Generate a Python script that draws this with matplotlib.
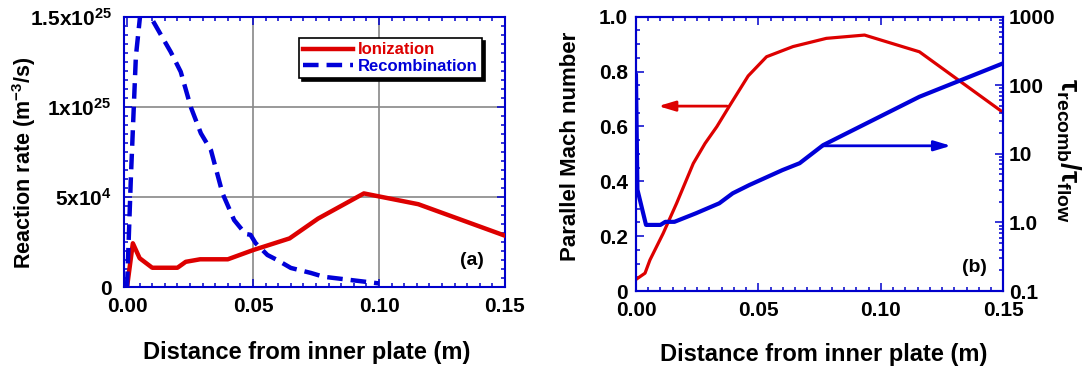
"""
Two-panel divertor plot:
  (a) ionization / recombination rate vs distance from inner plate
  (b) parallel Mach number and tau_recomb / tau_flow
"""
import matplotlib
matplotlib.use("Agg")
import matplotlib.pyplot as plt
from matplotlib.ticker import MultipleLocator, FixedLocator, LogLocator, NullFormatter

plt.rcParams["font.family"] = ["Liberation Sans", "DejaVu Sans"]
plt.rcParams["font.weight"] = "bold"
plt.rcParams["axes.labelweight"] = "bold"
plt.rcParams["mathtext.fontset"] = "custom"
plt.rcParams["mathtext.rm"] = "Liberation Sans:bold"
plt.rcParams["mathtext.bf"] = "Liberation Sans:bold"
plt.rcParams["mathtext.it"] = "Liberation Sans:bold:italic"
plt.rcParams["mathtext.default"] = "bf"

RED = "#dd0000"
BLUE = "#0000d8"
AXC = "#0000cc"

# ---- panel (a): reaction rates (m^-3/s) ----
ion_x = [0.0, 0.0023, 0.005, 0.010, 0.020, 0.0233, 0.029, 0.040, 0.050,
         0.0645, 0.0758, 0.094, 0.1156, 0.150]
ion_y = [0.0, 2.43e24, 1.6e24, 1.07e24, 1.07e24, 1.4e24, 1.54e24, 1.54e24,
         2.05e24, 2.7e24, 3.8e24, 5.2e24, 4.6e24, 2.85e24]

rec_x = [0.0, 0.0015, 0.0035, 0.0055, 0.007, 0.0094, 0.0147, 0.0173, 0.0213,
         0.0253, 0.0293, 0.0333, 0.0379, 0.0425, 0.047, 0.049, 0.051, 0.0557,
         0.0596, 0.065, 0.073, 0.078, 0.100]
rec_y = [0.0, 6.0e24, 12.8e24, 15.5e24, 16.2e24, 15.0e24, 13.7e24, 13.07e24,
         11.96e24, 10.0e24, 8.54e24, 7.6e24, 5.2e24, 3.72e24, 2.95e24,
         2.9e24, 2.44e24, 1.78e24, 1.5e24, 1.06e24, 0.78e24, 0.57e24, 0.2e24]

rate_ticks = [0, 5e24, 1e25, 1.5e25]
rate_labels = ["0", r"5x10$^{4}$", r"1x10$^{25}$", r"1.5x10$^{25}$"]

# ---- panel (b): Mach number (left) and tau ratio (right, log) ----
mach_x = [0.0003, 0.0037, 0.0057, 0.0111, 0.0166, 0.0234, 0.0282,
          0.033, 0.0384, 0.0458, 0.0533, 0.0641, 0.0777, 0.0933, 0.1157, 0.150]
mach_y = [0.044, 0.065, 0.113, 0.21, 0.32, 0.465, 0.538, 0.599,
          0.678, 0.784, 0.854, 0.891, 0.921, 0.933, 0.872, 0.65]

tau_x = [0.0, 0.0006, 0.0041, 0.010, 0.012, 0.0157, 0.0245, 0.034, 0.0395,
         0.0462, 0.0598, 0.0668, 0.0764, 0.1157, 0.150]
tau_y = [140, 3.0, 0.92, 0.92, 1.02, 1.02, 1.36, 1.9, 2.66, 3.5, 5.8, 7.3,
         13.4, 68, 210]

mach_ticks = [0, 0.2, 0.4, 0.6, 0.8, 1.0]
mach_labels = ["0", "0.2", "0.4", "0.6", "0.8", "1.0"]
tau_ticks = [0.1, 1, 10, 100, 1000]
tau_labels = ["0.1", "1.0", "10", "100", "1000"]

x_ticks = [0.0, 0.05, 0.10, 0.15]
x_labels = ["0.00", "0.05", "0.10", "0.15"]


def frame(ax):
    for s in ax.spines.values():
        s.set_color(AXC)
        s.set_linewidth(1.5)
    ax.tick_params(which="both", direction="in", color=AXC, width=1.1,
                   labelsize=15, labelcolor="black")
    ax.tick_params(which="major", length=6)
    ax.tick_params(which="minor", length=3)


fig = plt.figure(figsize=(10.86, 3.70), dpi=100)
ax1 = fig.add_axes([0.1142, 0.2243, 0.3508, 0.7297])
ax2 = fig.add_axes([0.5856, 0.2135, 0.3384, 0.7414])

# ===== (a) =====
ax1.plot(ion_x, ion_y, color=RED, lw=3.2, label="Ionization", zorder=3)
ax1.plot(rec_x, rec_y, color=BLUE, lw=3.2, dashes=(3.5, 1.8),
         label="Recombination", zorder=4)
for gx in (0.05, 0.10):
    ax1.axvline(gx, color="#888888", lw=1.2, zorder=1)
for gy in (5e24, 1e25):
    ax1.axhline(gy, color="#888888", lw=1.2, zorder=1)
ax1.set_xlim(-0.0012, 0.15)
ax1.set_ylim(0, 1.5e25)
frame(ax1)
ax1.tick_params(which="both", top=True, right=True)
ax1.tick_params(axis="x", pad=7)
ax1.tick_params(axis="y", pad=9)
ax1.xaxis.set_major_locator(FixedLocator(x_ticks))
ax1.set_xticklabels(x_labels)
ax1.xaxis.set_minor_locator(MultipleLocator(0.005))
ax1.yaxis.set_major_locator(FixedLocator(rate_ticks))
ax1.set_yticklabels(rate_labels)
ax1.yaxis.set_minor_locator(MultipleLocator(5e23))
ax1.set_ylabel(r"Reaction rate (m$^{-3}$/s)", fontsize=15.5)
ax1.yaxis.set_label_coords(-0.225, 0.46)
ax1.set_xlabel("Distance from inner plate (m)", fontsize=17)
ax1.xaxis.set_label_coords(0.48, -0.2)
leg = ax1.legend(loc="upper right", bbox_to_anchor=(0.962, 0.952),
                 fontsize=12, handlelength=3.0, handletextpad=0.3,
                 labelspacing=0.1, borderpad=0.25, fancybox=False,
                 edgecolor="black", framealpha=1, labelcolor="linecolor",
                 shadow={"color": "black", "alpha": 1})
leg.get_frame().set_linewidth(1.2)
ax1.text(0.913, 0.1, "(a)", transform=ax1.transAxes, fontsize=14,
         ha="center", va="center")

# ===== (b) =====
ax2.plot(mach_x, mach_y, color=RED, lw=2.3, zorder=3)
ax2.set_xlim(0, 0.15)
ax2.set_ylim(0, 1.0)
frame(ax2)
ax2.tick_params(which="both", top=True, right=False)
ax2.tick_params(axis="x", pad=7)
ax2.tick_params(axis="y", pad=6)
ax2.xaxis.set_major_locator(FixedLocator(x_ticks))
ax2.set_xticklabels(x_labels)
ax2.xaxis.set_minor_locator(MultipleLocator(0.005))
ax2.yaxis.set_major_locator(FixedLocator(mach_ticks))
ax2.set_yticklabels(mach_labels)
ax2.yaxis.set_minor_locator(MultipleLocator(0.05))
ax2.set_ylabel("Parallel Mach number", fontsize=16)
ax2.yaxis.set_label_coords(-0.15, 0.527)
ax2.set_xlabel("Distance from inner plate (m)", fontsize=17)
ax2.xaxis.set_label_coords(0.51, -0.19)
ax2.annotate("", xy=(0.0091, 0.674), xytext=(0.0372, 0.674),
             arrowprops=dict(arrowstyle="-|>,head_length=1.0,head_width=0.3",
                             color=RED, lw=2.0, shrinkA=0, shrinkB=0))
ax2.text(0.92, 0.084, "(b)", transform=ax2.transAxes, fontsize=14,
         ha="center", va="center")

ax3 = ax2.twinx()
ax3.plot(tau_x, tau_y, color=BLUE, lw=3.0, zorder=4)
ax3.set_yscale("log")
ax3.set_ylim(0.1, 1000)
frame(ax3)
ax3.tick_params(which="both", left=False, right=True)
ax3.tick_params(axis="y", pad=4)
ax3.yaxis.set_major_locator(FixedLocator(tau_ticks))
ax3.set_yticklabels(tau_labels)
ax3.yaxis.set_minor_locator(LogLocator(base=10, subs=range(2, 10)))
ax3.yaxis.set_minor_formatter(NullFormatter())
ax3.annotate("", xy=(0.1286, 13.1), xytext=(0.0764, 13.1),
             arrowprops=dict(arrowstyle="-|>,head_length=1.0,head_width=0.3",
                             color=BLUE, lw=2.0, shrinkA=0, shrinkB=0))
fig.text(1068 / 1086, 1 - 150 / 370,
         r"$\tau_{\mathbf{recomb}}/\tau_{\mathbf{flow}}$",
         rotation=-90, ha="center", va="center", fontsize=20)

plt.savefig("out.png", dpi=100)
